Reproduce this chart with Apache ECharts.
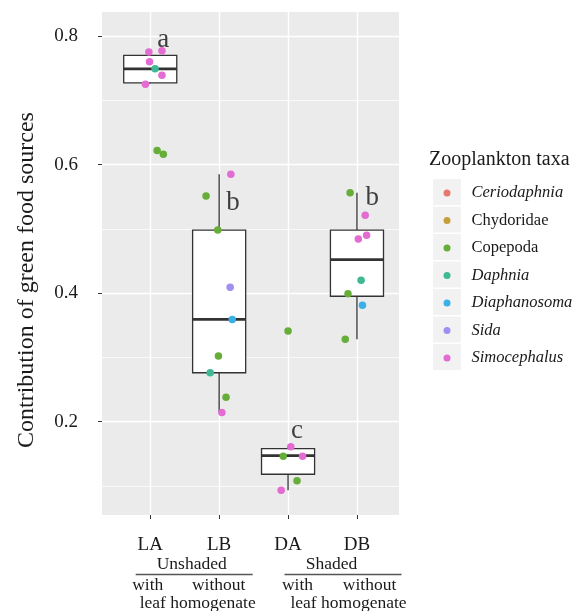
<!DOCTYPE html>
<html><head><meta charset="utf-8">
<script src="https://cdn.jsdelivr.net/npm/echarts@6/dist/echarts.min.js"></script>
<style>html,body{margin:0;padding:0;background:#fff}#c{width:577px;height:611px}</style>
</head><body><div id="c"></div>
<script>
// ---------- data ----------
const categories = ['LA', 'LB', 'DA', 'DB'];
const yTicks = [0.2, 0.4, 0.6, 0.8];
const yMinorTicks = [0.1, 0.3, 0.5, 0.7];
// box stats per category: [lower whisker, Q1, median, Q3, upper whisker]
const boxLA = [0.726, 0.727, 0.749, 0.770, 0.777];
const boxLB = [0.214, 0.276, 0.359, 0.498, 0.585];
const boxDA = [0.093, 0.118, 0.147, 0.158, 0.161];
const boxDB = [0.328, 0.395, 0.452, 0.498, 0.556];
const letters = ['a', 'b', 'c', 'b'];
const letterY = [0.794, 0.541, 0.186, 0.548];
const letterDx = [0.19, 0.20, 0.13, 0.22];
const taxa = ['Ceriodaphnia', 'Chydoridae', 'Copepoda', 'Daphnia', 'Diaphanosoma', 'Sida', 'Simocephalus'];
const italicTaxa = ['Ceriodaphnia', 'Daphnia', 'Diaphanosoma', 'Sida', 'Simocephalus'];
const taxaColors = ['#e8776e', '#c5a03a', '#66ad3a', '#3fb894', '#3ab1e6', '#a28ef0', '#e36bd2'];
// points: [category index, jitter (category units), value]
const ceriodaphniaPts = [];
const chydoridaePts = [];
const copepodaPts = [[0,0.10,0.622],[0,0.19,0.616],[1,-0.19,0.551],[1,-0.02,0.498],[1,-0.01,0.302],[1,0.10,0.238],
  [2,0.00,0.341],[2,-0.07,0.146],[2,0.13,0.108],[3,-0.10,0.556],[3,-0.13,0.399],[3,-0.17,0.328]];
const daphniaPts = [[0,0.07,0.749],[1,-0.13,0.276],[3,0.06,0.420]];
const diaphanosomaPts = [[1,0.19,0.359],[3,0.08,0.381]];
const sidaPts = [[1,0.16,0.409]];
const simocephalusPts = [[0,-0.02,0.775],[0,0.17,0.777],[0,-0.01,0.760],[0,0.17,0.739],[0,-0.07,0.725],
  [1,0.17,0.585],[1,0.04,0.214],[2,0.04,0.161],[2,0.21,0.146],[2,-0.10,0.093],
  [3,0.12,0.521],[3,0.14,0.490],[3,0.02,0.484]];
const treatmentGroups = ['Unshaded', 'Shaded'];
const subLabels = ['with', 'without'];
const subLabel2 = 'leaf homogenate';
const yTitle = 'Contribution of green food sources';
const legendTitle = 'Zooplankton taxa';

// ---------- chart ----------
const FONT = 'Liberation Serif';
const TXT = '#1a1a1a';
const boxes = [boxLA, boxLB, boxDA, boxDB].map((b, i) => [i + 1].concat(b));
const pointsByTaxon = [ceriodaphniaPts, chydoridaePts, copepodaPts, daphniaPts, diaphanosomaPts, sidaPts, simocephalusPts];
const chart = echarts.init(document.getElementById('c'), null, {renderer: 'canvas'});

const gridLines = []
  .concat(yMinorTicks.map(v => ({yAxis: v, lineStyle: {color: '#fff', width: 0.7, type: 'solid'}})))
  .concat(yTicks.map(v => ({yAxis: v, lineStyle: {color: '#fff', width: 1.4, type: 'solid'}})))
  .concat(categories.map((c, i) => ({xAxis: i + 1, lineStyle: {color: '#fff', width: 1.4, type: 'solid'}})));

const series = [{
  type: 'scatter', data: [], z: 1, silent: true,
  markLine: {silent: true, z: 1, symbol: 'none', label: {show: false}, animation: false, data: gridLines}
}, {
  type: 'custom', z: 10, silent: true, data: boxes,
  renderItem: function (params, api) {
    const x = api.value(0), lo = api.value(1), q1 = api.value(2), med = api.value(3), q3 = api.value(4), hi = api.value(5);
    const hw = 0.385;
    const tl = api.coord([x - hw, q3]), br = api.coord([x + hw, q1]);
    const cHi = api.coord([x, hi]), cQ3 = api.coord([x, q3]), cQ1 = api.coord([x, q1]), cLo = api.coord([x, lo]);
    const mL = api.coord([x - hw, med]), mR = api.coord([x + hw, med]);
    const st = {stroke: '#333', lineWidth: 1.3};
    return {type: 'group', children: [
      {type: 'line', shape: {x1: cHi[0], y1: cHi[1], x2: cQ3[0], y2: cQ3[1]}, style: st},
      {type: 'line', shape: {x1: cLo[0], y1: cLo[1], x2: cQ1[0], y2: cQ1[1]}, style: st},
      {type: 'rect', shape: {x: tl[0], y: tl[1], width: br[0] - tl[0], height: br[1] - tl[1]}, style: {fill: '#fff', stroke: '#333', lineWidth: 1.3}},
      {type: 'line', shape: {x1: mL[0], y1: mL[1], x2: mR[0], y2: mR[1]}, style: {stroke: '#333', lineWidth: 2.8}}
    ]};
  }
}];
taxa.forEach((t, k) => {
  series.push({
    name: t, type: 'scatter', z: 11, symbol: 'circle', symbolSize: 7.5,
    itemStyle: {color: taxaColors[k], opacity: 1},
    data: pointsByTaxon[k].map(p => [p[0] + 1 + p[1], p[2]])
  });
});
series.push({
  type: 'scatter', z: 12, symbolSize: 0, silent: true,
  data: letters.map((l, i) => ({value: [i + 1 + letterDx[i], letterY[i]], name: l})),
  label: {show: true, position: 'inside', formatter: p => p.name, fontFamily: FONT, fontSize: 27, color: '#111'}
});

const richBase = {fontFamily: FONT, fontSize: 16.5, color: TXT, lineHeight: 16, padding: [0, 0, 0, 16]};
chart.setOption({
  animation: false,
  grid: {left: 102, right: 178, top: 12, bottom: 96, show: true, backgroundColor: '#EBEBEB', borderWidth: 0, containLabel: false},
  xAxis: {
    type: 'value', min: 0.3, max: 4.61,
    axisLine: {show: false}, splitLine: {show: false},
    axisTick: {show: true, customValues: [1, 2, 3, 4], length: 4, lineStyle: {color: '#333'}},
    axisLabel: {customValues: [1, 2, 3, 4], formatter: v => categories[Math.round(v) - 1], margin: 21, fontFamily: FONT, fontSize: 19, color: TXT}
  },
  yAxis: {
    type: 'value', min: 0.0546, max: 0.8374,
    axisLine: {show: false}, splitLine: {show: false},
    axisTick: {show: true, customValues: yTicks, length: 4, lineStyle: {color: '#333'}},
    axisLabel: {customValues: yTicks, formatter: v => v.toFixed(1), margin: 24, fontFamily: FONT, fontSize: 19, color: TXT}
  },
  legend: {
    data: taxa, orient: 'vertical', left: 443.5, top: 184.5, padding: 0, itemWidth: 7, itemHeight: 7, itemGap: 10.5,
    icon: 'circle', selectedMode: false,
    formatter: n => (italicTaxa.includes(n) ? '{i|' + n + '}' : '{n|' + n + '}'),
    textStyle: {fontFamily: FONT, fontSize: 16.5, color: TXT, lineHeight: 16,
      rich: {i: Object.assign({fontStyle: 'italic'}, richBase), n: Object.assign({}, richBase)}}
  },
  series: series
});

// ---------- annotations ----------
const px = v => chart.convertToPixel({gridIndex: 0}, [v, 0.5])[0];
const g = [];
for (let i = 0; i < taxa.length; i++) {
  g.push({type: 'rect', z: 0, shape: {x: 433, y: 192 - 13 + i * 27.5, width: 28, height: 26}, style: {fill: '#f2f2f2'}, silent: true});
}
g.push({type: 'text', left: 429, top: 150, style: {text: legendTitle, font: '20px "Liberation Serif"', fill: TXT}});
g.push({type: 'text', x: 27, y: 280, rotation: Math.PI / 2, style: {text: yTitle, font: '24px "Liberation Serif"', fill: TXT, align: 'center', verticalAlign: 'middle'}});
const groupOffsets = [
  {title: 7, l1: -49, l2: 68, w: -37, wo: 34, leaf: 13},
  {title: 9, l1: -38, l2: 79, w: -25, wo: 47, leaf: 26}
];
treatmentGroups.forEach((name, gi) => {
  const mid = (px(gi * 2 + 1) + px(gi * 2 + 2)) / 2;
  const o = groupOffsets[gi];
  const f = '17.5px "Liberation Serif"';
  g.push({type: 'text', x: mid + o.title, y: 564, style: {text: name, font: f, fill: TXT, align: 'center', verticalAlign: 'middle'}});
  g.push({type: 'line', shape: {x1: mid + o.l1, y1: 574.5, x2: mid + o.l2, y2: 574.5}, style: {stroke: '#555', lineWidth: 1.3}});
  g.push({type: 'text', x: mid + o.w, y: 585, style: {text: subLabels[0], font: f, fill: TXT, align: 'center', verticalAlign: 'middle'}});
  g.push({type: 'text', x: mid + o.wo, y: 585, style: {text: subLabels[1], font: f, fill: TXT, align: 'center', verticalAlign: 'middle'}});
  g.push({type: 'text', x: mid + o.leaf, y: 603, style: {text: subLabel2, font: f, fill: TXT, align: 'center', verticalAlign: 'middle'}});
});
chart.setOption({graphic: g});
</script>
</body></html>
